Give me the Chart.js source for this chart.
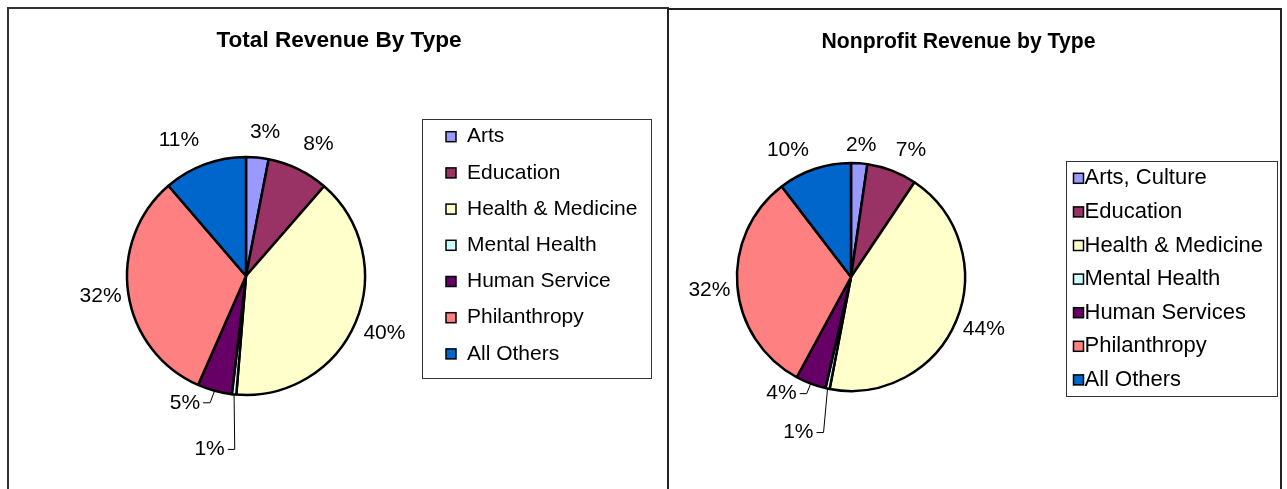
<!DOCTYPE html>
<html>
<head>
<meta charset="utf-8">
<script src="https://cdn.jsdelivr.net/npm/chart.js@4"></script>
<style>
body { margin:0; background:#fff; width:1287px; height:489px; overflow:hidden; position:relative; }
.box { position:absolute; border:2px solid #333; box-sizing:border-box; }
#box1 { left:7px; top:7px; width:662px; height:500px; }
#box2 { left:667px; top:8px; width:615px; height:500px; border-color:#222; }
canvas { position:absolute; }
#pie1 { left:9px; top:9px; }
#pie2 { left:669px; top:10px; }
</style>
</head>
<body>
<div class="box" id="box1"></div>
<div class="box" id="box2"></div>
<canvas id="pie1" width="658" height="480"></canvas>
<canvas id="pie2" width="610" height="479"></canvas>
<script>
// categories
var totalCategories = ['Arts', 'Education', 'Health & Medicine', 'Mental Health', 'Human Service', 'Philanthropy', 'All Others'];
var nonprofitCategories = ['Arts, Culture', 'Education', 'Health & Medicine', 'Mental Health', 'Human Services', 'Philanthropy', 'All Others'];

// share of revenue, percent
var totalValues = [3.05, 8.35, 39.9, 0.6, 4.7, 32.1, 11.3];
var nonprofitValues = [2.3, 7.1, 43.6, 0.6, 4.3, 31.7, 10.4];

var sliceColors = ['#9999FF', '#993366', '#FFFFCC', '#CCFFFF', '#660066', '#FF8080', '#0066CC'];

var fontFamily = '"Liberation Sans", Arial, sans-serif';

// title, percent labels (with leader lines) and boxed legend
var pieExtras = {
	id: 'pieExtras',
	afterDraw: function(chart, args, opts) {
		var ctx = chart.ctx;
		var meta = chart.getDatasetMeta(0);
		var values = chart.data.datasets[0].data;
		var colors = chart.data.datasets[0].backgroundColor;
		var total = 0;
		for (var k = 0; k < values.length; k++) total += values[k];

		ctx.save();
		ctx.fillStyle = '#000';
		ctx.font = 'bold ' + opts.titleSize + 'px ' + fontFamily;
		ctx.textAlign = 'center';
		ctx.textBaseline = 'alphabetic';
		ctx.fillText(opts.title, opts.titleX, opts.titleY);

		ctx.font = '21px ' + fontFamily;
		ctx.textBaseline = 'middle';
		meta.data.forEach(function(arc, i) {
			var p = arc.getProps(['x', 'y', 'startAngle', 'endAngle', 'outerRadius'], true);
			var mid = (p.startAngle + p.endAngle) / 2;
			var text = Math.round(values[i] / total * 100) + '%';
			var lead = opts.leaders[i];
			if (lead) {
				var ex = p.x + Math.cos(mid) * p.outerRadius;
				var ey = p.y + Math.sin(mid) * p.outerRadius;
				var bx = ex + lead.dx, by = ey + lead.dy;
				ctx.strokeStyle = '#000';
				ctx.lineWidth = 1;
				ctx.beginPath();
				ctx.moveTo(ex, ey);
				ctx.lineTo(bx, by);
				ctx.lineTo(bx - 7, by);
				ctx.stroke();
				ctx.textAlign = 'right';
				ctx.fillText(text, bx - 10, by);
			} else {
				var d = p.outerRadius + opts.labelGap;
				var n = opts.nudge[i] || { dx: 0, dy: 0 };
				ctx.textAlign = 'center';
				ctx.fillText(text, p.x + Math.cos(mid) * d + n.dx, p.y + Math.sin(mid) * d + n.dy);
			}
		});

		var lg = opts.legend;
		ctx.strokeStyle = '#333';
		ctx.lineWidth = 1;
		ctx.strokeRect(lg.x + 0.5, lg.y + 0.5, lg.w, lg.h);
		ctx.font = lg.fontSize + 'px ' + fontFamily;
		ctx.textAlign = 'left';
		chart.data.labels.forEach(function(name, i) {
			var cy = lg.firstRow + i * lg.rowGap;
			ctx.fillStyle = colors[i];
			ctx.fillRect(lg.swatchX, cy - 5, 10, 10);
			ctx.strokeStyle = '#000';
			ctx.lineWidth = 1.5;
			ctx.strokeRect(lg.swatchX, cy - 5, 10, 10);
			ctx.fillStyle = '#000';
			ctx.fillText(name, lg.textX, cy);
		});
		ctx.restore();
	}
};

function makePie(canvasId, categories, values, radius, padding, extras) {
	return new Chart(document.getElementById(canvasId), {
		type: 'pie',
		data: {
			labels: categories,
			datasets: [{
				data: values,
				backgroundColor: sliceColors,
				borderColor: '#000',
				borderWidth: 2.5
			}]
		},
		options: {
			responsive: false,
			animation: false,
			radius: radius,
			layout: { padding: padding },
			plugins: {
				legend: { display: false },
				title: { display: false },
				tooltip: { enabled: false },
				pieExtras: extras
			}
		},
		plugins: [pieExtras]
	});
}

makePie('pie1', totalCategories, totalValues, 119,
	{ left: 0, right: 184, top: 54, bottom: 0 },
	{
		title: 'Total Revenue By Type', titleX: 330, titleY: 38, titleSize: 22.6,
		labelGap: 28,
		nudge: { 0: { dx: 5, dy: 3 }, 1: { dx: 8, dy: 0 }, 2: { dx: 3, dy: 0 }, 5: { dx: 0, dy: -1.5 }, 6: { dx: -16, dy: 2.5 } },
		leaders: { 3: { dx: 0.7, dy: 55 }, 4: { dx: -4.5, dy: 12 } },
		legend: { x: 413, y: 110, w: 229, h: 259, swatchX: 437, textX: 458, firstRow: 127.7, rowGap: 36.2, fontSize: 21 }
	});

makePie('pie2', nonprofitCategories, nonprofitValues, 114,
	{ left: 0, right: 246, top: 55, bottom: 0 },
	{
		title: 'Nonprofit Revenue by Type', titleX: 289.5, titleY: 37.5, titleSize: 21.2,
		labelGap: 28,
		nudge: { 0: { dx: 0, dy: 9.5 }, 1: { dx: 9, dy: 6 }, 2: { dx: 1.5, dy: -1.5 }, 5: { dx: 0, dy: 2 }, 6: { dx: -17.5, dy: 7.5 } },
		leaders: { 3: { dx: -4, dy: 44 }, 4: { dx: -4, dy: 10 } },
		legend: { x: 397, y: 151, w: 211, h: 235, swatchX: 404.5, textX: 415.5, firstRow: 168.3, rowGap: 33.6, fontSize: 22 }
	});
</script>
</body>
</html>
